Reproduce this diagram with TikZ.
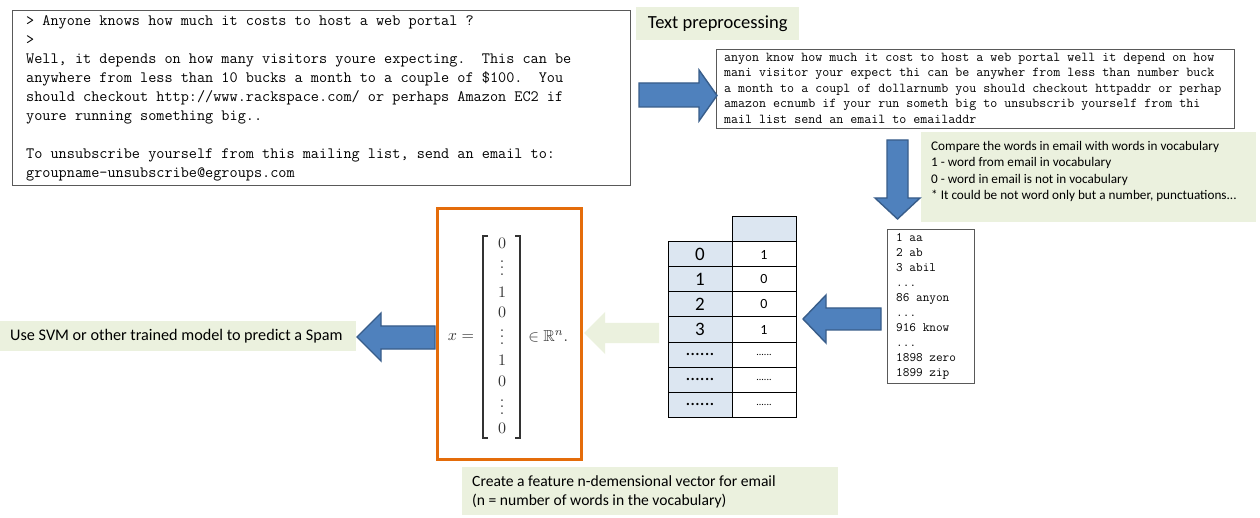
\documentclass[tikz,border=0pt]{standalone}
\usepackage{amsmath,amssymb}
\usepackage{fontspec}
\newfontfamily\calib{Carlito}
\setmonofont{Latin Modern Mono}
\definecolor{gbg}{HTML}{EBF1DE}
\definecolor{ablue}{HTML}{4F81BD}
\definecolor{aborder}{HTML}{385D8A}
\definecolor{tblue}{HTML}{DCE6F1}
\definecolor{orng}{HTML}{E46C0A}
\newcommand\myvdots{\vbox{\baselineskip4pt\lineskiplimit0pt\hbox{.}\hbox{.}\hbox{.}}}
\begin{document}
\begin{tikzpicture}[x=1pt,y=-1pt,
  tbox/.style={draw=black!65, line width=1.1pt, inner sep=0pt, anchor=north west},
  gbox/.style={fill=gbg, inner sep=0pt, anchor=north west},
  barrow/.style={fill=ablue, draw=aborder, line width=1.4pt, line join=miter},
  parrow/.style={fill=gbg},
  mono/.style={anchor=north west, inner sep=0pt, align=left},
  lbl/.style={anchor=base west, inner sep=0pt},
  cellL/.style={draw=black, line width=1pt, fill=tblue, minimum width=64pt, minimum height=25pt, inner sep=0pt, font=\calib\fontsize{19}{19}\selectfont},
  cellR/.style={draw=black, line width=1pt, fill=white, minimum width=64pt, minimum height=25pt, inner sep=0pt, font=\calib\fontsize{14}{14}\selectfont},
  dotsR/.style={font=\calib\fontsize{10}{10}\selectfont},
  mth/.style={text=black!80, font=\fontsize{10}{12}\selectfont, inner sep=0pt, scale=1.6},
  brk/.style={draw=black!80, line width=1.1pt}
]
\useasboundingbox (0,0) rectangle (1260,518);
\fill[white] (0,0) rectangle (1260,518);

% email box
\node[tbox, minimum width=618pt, minimum height=175pt] (email) at (12,10) {};
\node[mono, font=\ttfamily\fontsize{15.8}{19}\selectfont] (emailtext) at (26,15.3)
{> Anyone knows how much it costs to host a web portal ?\\
>\\
Well, it depends on how many visitors youre expecting.\ \ This can be\\
anywhere from less than 10 bucks a month to a couple of \$100.\ \ You\\
should checkout http://www.rackspace.com/ or perhaps Amazon EC2 if\\
youre running something big..\\
\mbox{}\\
To unsubscribe yourself from this mailing list, send an email to:\\
groupname-unsubscribe@egroups.com};

% text preprocessing label
\node[gbox, minimum width=163pt, minimum height=33pt] (tplbl) at (636,7) {};
\node[font=\calib\fontsize{18.5}{20}\selectfont] (tptext) at (tplbl.center) {Text preprocessing};

% processed box
\node[tbox, minimum width=518pt, minimum height=79pt] (proc) at (716,49) {};
\node[mono, font=\ttfamily\fontsize{13.6}{15.5}\selectfont] (proctext) at (724,52.6)
{anyon know how much it cost to host a web portal well it depend on how\\
mani visitor your expect thi can be anywher from less than number buck\\
a month to a coupl of dollarnumb you should checkout httpaddr or perhap\\
amazon ecnumb if your run someth big to unsubscrib yourself from thi\\
mail list send an email to emailaddr};

% arrow email -> processed
\path[barrow] (639,83) -- (699,83) -- (699,70) -- (717,95.5) -- (699,121) -- (699,107) -- (639,107) -- cycle;

% comment box
\node[gbox, minimum width=335pt, minimum height=90pt] (cmp) at (921,132) {};
\begin{scope}[every node/.style={lbl, font=\calib\fontsize{13.2}{16}\selectfont}]
\node (cmp1) at (931,150.5) {Compare the words in email with words in vocabulary};
\node (cmp2) at (931,166.8) {1 - word from email in vocabulary};
\node (cmp3) at (931,183.1) {0 - word in email is not in vocabulary};
\node (cmp4) at (931,199.4) {* It could be not word only but a number, punctuations...};
\end{scope}

% down arrow
\path[barrow] (887,140) -- (908,140) -- (908,198) -- (920,198) -- (897.5,219) -- (875,198) -- (887,198) -- cycle;

% vocabulary box
\node[tbox, minimum width=87pt, minimum height=154pt] (vocab) at (887,229) {};
\node[mono, font=\ttfamily\fontsize{12.9}{15}\selectfont] (vocabtext) at (896,233.6)
{1 aa\\2 ab\\3 abil\\...\\86 anyon\\...\\916 know\\...\\1898 zero\\1899 zip};

% arrow vocab -> table
\path[barrow] (881,308) -- (826,308) -- (826,295) -- (803,319) -- (826,343) -- (826,330) -- (881,330) -- cycle;

% table
\node[cellL] (hR) at (764,229.5) {};
\node[cellL] (l0) at (700,254.5) {0};
\node[cellL] (l1) at (700,279.5) {1};
\node[cellL] (l2) at (700,304.5) {2};
\node[cellL] (l3) at (700,329.5) {3};
\node[cellL] (l4) at (700,354.5) {......};
\node[cellL] (l5) at (700,379.5) {......};
\node[cellL] (l6) at (700,404.5) {......};
\node[cellR] (r0) at (764,254.5) {1};
\node[cellR] (r1) at (764,279.5) {0};
\node[cellR] (r2) at (764,304.5) {0};
\node[cellR] (r3) at (764,329.5) {1};
\node[cellR, dotsR] (r4) at (764,354.5) {......};
\node[cellR, dotsR] (r5) at (764,379.5) {......};
\node[cellR, dotsR] (r6) at (764,404.5) {......};

% pale arrow table -> vector
\path[parrow] (659,323) -- (605,323) -- (605,312) -- (584,333) -- (605,354) -- (605,343) -- (659,343) -- cycle;

% vector box
\node[draw=orng, line width=3pt, inner sep=0pt, anchor=north west, minimum width=144pt, minimum height=251pt] (vbox) at (436,207) {};
\node[mth] (xeq) at (461,337) {$x =$};
\node[mth] (e1) at (502,243) {$0$};
\node[mth] (e2) at (502,268) {\myvdots};
\node[mth] (e3) at (502,292) {$1$};
\node[mth] (e4) at (502,312) {$0$};
\node[mth] (e5) at (502,337) {\myvdots};
\node[mth] (e6) at (502,360) {$1$};
\node[mth] (e7) at (502,381) {$0$};
\node[mth] (e8) at (502,407) {\myvdots};
\node[mth] (e9) at (502,428) {$0$};
\node[mth, anchor=west] (inR) at (528,336) {$\in \mathbb{R}^n.$};
\path[brk] (488,236) -- (483,236) -- (483,438) -- (488,438);
\path[brk] (515,236) -- (520,236) -- (520,438) -- (515,438);

% feature label
\node[gbox, minimum width=376pt, minimum height=48pt] (feat) at (462,467) {};
\begin{scope}[every node/.style={lbl, font=\calib\fontsize{15.6}{18}\selectfont}]
\node (feat1) at (472,486.5) {Create a feature n-demensional vector for email};
\node (feat2) at (472,505.5) {(n = number of words in the vocabulary)};
\end{scope}

% arrow vector -> svm
\path[barrow] (435,326) -- (381,326) -- (381,313) -- (357,337) -- (381,361) -- (381,349) -- (435,349) -- cycle;

% svm label
\node[gbox, minimum width=356pt, minimum height=30pt] (svm) at (0,321) {};
\node[lbl, font=\calib\fontsize{16.2}{18}\selectfont] (svmtext) at (10,341) {Use SVM or other trained model to predict a Spam};
\end{tikzpicture}
\end{document}
